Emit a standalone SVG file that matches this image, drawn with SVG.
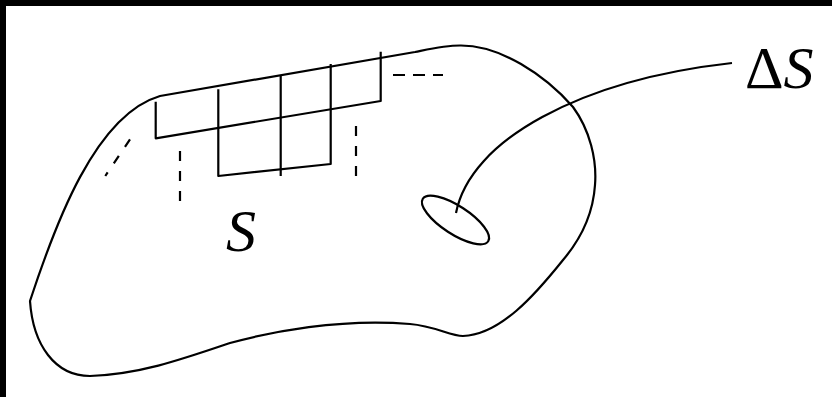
<svg xmlns="http://www.w3.org/2000/svg" width="832" height="397" viewBox="0 0 832 397">
<style>
.ln{fill:none;stroke:#000;stroke-width:2.2;stroke-linejoin:round}
.dash{fill:none;stroke:#000;stroke-width:2.2;stroke-dasharray:10 10}
.lbl{font-family:"Liberation Serif","Times New Roman",serif;font-size:60px;fill:#000}
</style>
<rect x="0" y="0" width="832" height="397" fill="#fff"/>
<rect x="0" y="0" width="832" height="6" fill="#000"/>
<rect x="0" y="0" width="6" height="397" fill="#000"/>
<g id="surface">
<path class="ln" d="M30,301 C55,225 95,115 160,96 L415,52 C430,49 445,45.5 460,45.5 C500,45 545,75 573,107 C590,130 597,160 595,185 C593,215 580,240 563,260 C535,295 500,335 463,336 C450,336 435,326 410,324 C340,318 270,332 230,343 C180,360 140,374 90,376 C55,376 33,345 30,301 Z"/>
</g>
<g id="grid">
<path class="ln" d="M155.7,101.7 V138.3 L380.7,101 V51.7"/>
<path class="ln" d="M218.3,89.3 V176 L330.7,164 V64"/>
<path class="ln" d="M280.7,75 V176"/>
<path class="dash" d="M180,151 V202"/>
<path class="dash" d="M356,126 V177"/>
<path class="ln" d="M393,75 H443" stroke-dasharray="12 8"/>
<path class="ln" d="M130,139.3 L105.3,176" stroke-dasharray="9 11"/>
</g>
<g id="patch">
<ellipse class="ln" cx="455.5" cy="220" rx="39" ry="14" transform="rotate(33 455.5 220)"/>
</g>
<g id="connectors">
<path class="ln" d="M456,213 C470,140 580,80 732,63"/>
</g>
<g id="label-S">
<text class="lbl" x="226" y="251" font-style="italic">S</text>
</g>
<g id="label-dS">
<text class="lbl" x="745" y="88">Δ<tspan font-style="italic">S</tspan></text>
</g>
</svg>
